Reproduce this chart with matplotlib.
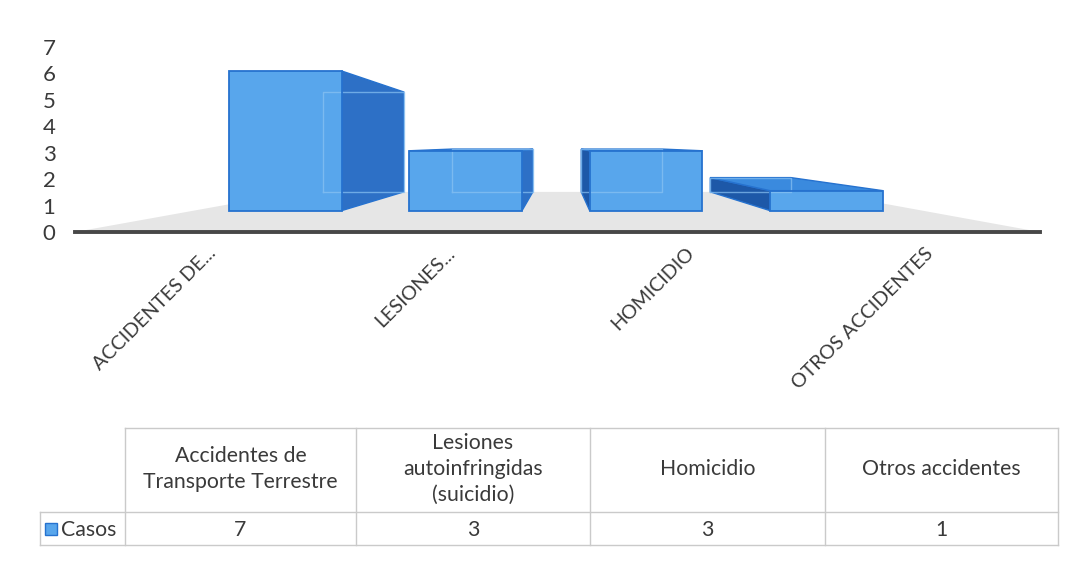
import matplotlib
matplotlib.use('Agg')
import matplotlib.pyplot as plt
import matplotlib.transforms as mtransforms
from matplotlib.patches import Polygon, Rectangle

# ---------------- data ----------------
axis_labels = ["ACCIDENTES DE...", "LESIONES...", "HOMICIDIO", "OTROS ACCIDENTES"]
table_labels = ["Accidentes de\nTransporte Terrestre",
                "Lesiones\nautoinfringidas\n(suicidio)",
                "Homicidio",
                "Otros accidentes"]
series_name = "Casos"
casos = [7, 3, 3, 1]
y_ticks = [0, 1, 2, 3, 4, 5, 6, 7]

plt.rcParams['font.family'] = ['Lato', 'DejaVu Sans']

W, H = 1075, 570
fig = plt.figure(figsize=(W / 100, H / 100), dpi=100)
fig.patch.set_facecolor('white')

def fx(px):
    return px / W

def fy(py):
    return 1 - py / H

# ---------------- table (overlay in pixel coordinates) ----------------
axt = fig.add_axes([0, 0, 1, 1], zorder=0)
axt.set_xlim(0, W)
axt.set_ylim(H, 0)
axt.axis('off')
axt.patch.set_alpha(0)

line_c = '#cacaca'
col_edges = [125, 356, 590, 825, 1058]
row_top, row_mid, row_bot = 428, 512, 545
key_left = 40
axt.plot([col_edges[0], col_edges[-1]], [row_top, row_top], color=line_c, lw=1)
axt.plot([key_left, col_edges[-1]], [row_mid, row_mid], color=line_c, lw=1)
axt.plot([key_left, col_edges[-1]], [row_bot, row_bot], color=line_c, lw=1)
axt.plot([key_left, key_left], [row_mid, row_bot], color=line_c, lw=1)
for xe in col_edges:
    axt.plot([xe, xe], [row_top, row_bot], color=line_c, lw=1)

text_c = '#3a3a3a'
table_fs = 15.3
for i, (lab, v) in enumerate(zip(table_labels, casos)):
    cx = (col_edges[i] + col_edges[i + 1]) / 2
    axt.text(cx, (row_top + row_mid) / 2 - 1, lab, ha='center', va='center',
             fontsize=table_fs, color=text_c, linespacing=1.38)
    axt.text(cx, (row_mid + row_bot) / 2 + 2, str(v), ha='center', va='center',
             fontsize=table_fs, color=text_c)

front_c = '#58a6ec'
edge_c = '#2672cf'
axt.add_patch(Rectangle((45, 523), 12, 12, facecolor=front_c, edgecolor=edge_c, lw=1))
axt.text(61, (row_mid + row_bot) / 2 + 1, series_name, ha='left', va='center',
         fontsize=table_fs, color=text_c)

# ---------------- main 3D-looking chart ----------------
ax_l, ax_r, ax_top, ax_bot = 75, 1040, 47, 232
ax = fig.add_axes([fx(ax_l), fy(ax_bot), (ax_r - ax_l) / W, (ax_bot - ax_top) / H], zorder=1)
ax.patch.set_alpha(0)
x_first_px, x_step_px = 196, 239
xlim = ((ax_l - x_first_px) / x_step_px, (ax_r - x_first_px) / x_step_px)
ax.set_xlim(*xlim)
ax.set_ylim(0, 7)

# perspective parameters (style)
vx = (560 - x_first_px) / x_step_px
vy = 3.3
s_front, s_back = 0.755, 0.54
bar_w = 0.625

def proj(x, y, s):
    return (vx + (x - vx) * s, vy + (y - vy) * s)

# floor
floor = [proj(xlim[0], 0, 1), proj(xlim[1], 0, 1), proj(xlim[1], 0, s_back), proj(xlim[0], 0, s_back)]
ax.add_patch(Polygon(floor, closed=True, facecolor='#e6e6e6', edgecolor='none', zorder=1))
ax.axhline(0, color='#474747', lw=2.8, zorder=2, clip_on=False)

side_right_c = '#2d70c6'
side_left_c = '#1d58a8'
top_c = '#3a8ade'
for i, v in enumerate(casos):
    x0, x1 = i - bar_w / 2, i + bar_w / 2
    y0, y1 = 0, v
    if i < vx:
        side = [proj(x1, y0, s_front), proj(x1, y0, s_back), proj(x1, y1, s_back), proj(x1, y1, s_front)]
        sc = side_right_c
    else:
        side = [proj(x0, y0, s_front), proj(x0, y0, s_back), proj(x0, y1, s_back), proj(x0, y1, s_front)]
        sc = side_left_c
    ax.add_patch(Polygon(side, closed=True, facecolor=sc, edgecolor=edge_c, lw=1.0, zorder=3))
    if y1 < vy:
        top = [proj(x0, y1, s_front), proj(x1, y1, s_front), proj(x1, y1, s_back), proj(x0, y1, s_back)]
        ax.add_patch(Polygon(top, closed=True, facecolor=top_c, edgecolor=edge_c, lw=1.0, zorder=3))
    front = [proj(x0, y0, s_front), proj(x1, y0, s_front), proj(x1, y1, s_front), proj(x0, y1, s_front)]
    ax.add_patch(Polygon(front, closed=True, facecolor=front_c, edgecolor='none', zorder=4))
    # hidden back edges seen through the translucent front face
    bx0, by0 = proj(x0, y0, s_back)
    bx1, by1 = proj(x1, y1, s_back)
    ax.plot([bx0, bx1, bx1, bx0, bx0], [by0, by0, by1, by1, by0], color='#8ac3f3',
            lw=1.0, zorder=5, alpha=0.7)
    ax.add_patch(Polygon(front, closed=True, facecolor='none', edgecolor=edge_c, lw=1.3, zorder=6))

for sp in ax.spines.values():
    sp.set_visible(False)
ax.set_yticks(y_ticks)
ax.set_yticklabels([str(t) for t in y_ticks])
ax.tick_params(axis='y', length=0, pad=14, labelsize=16, labelcolor=text_c)
ax.set_xticks(range(len(axis_labels)))
ax.set_xticklabels(axis_labels, rotation=45, ha='right', va='top', rotation_mode='anchor')
ax.tick_params(axis='x', length=0, pad=9, labelsize=14.2, labelcolor=text_c)
offset = mtransforms.ScaledTranslation(11 / 100, 0, fig.dpi_scale_trans)
for lab in ax.get_xticklabels():
    lab.set_transform(lab.get_transform() + offset)

fig.savefig('out.png', dpi=100, facecolor='white')
